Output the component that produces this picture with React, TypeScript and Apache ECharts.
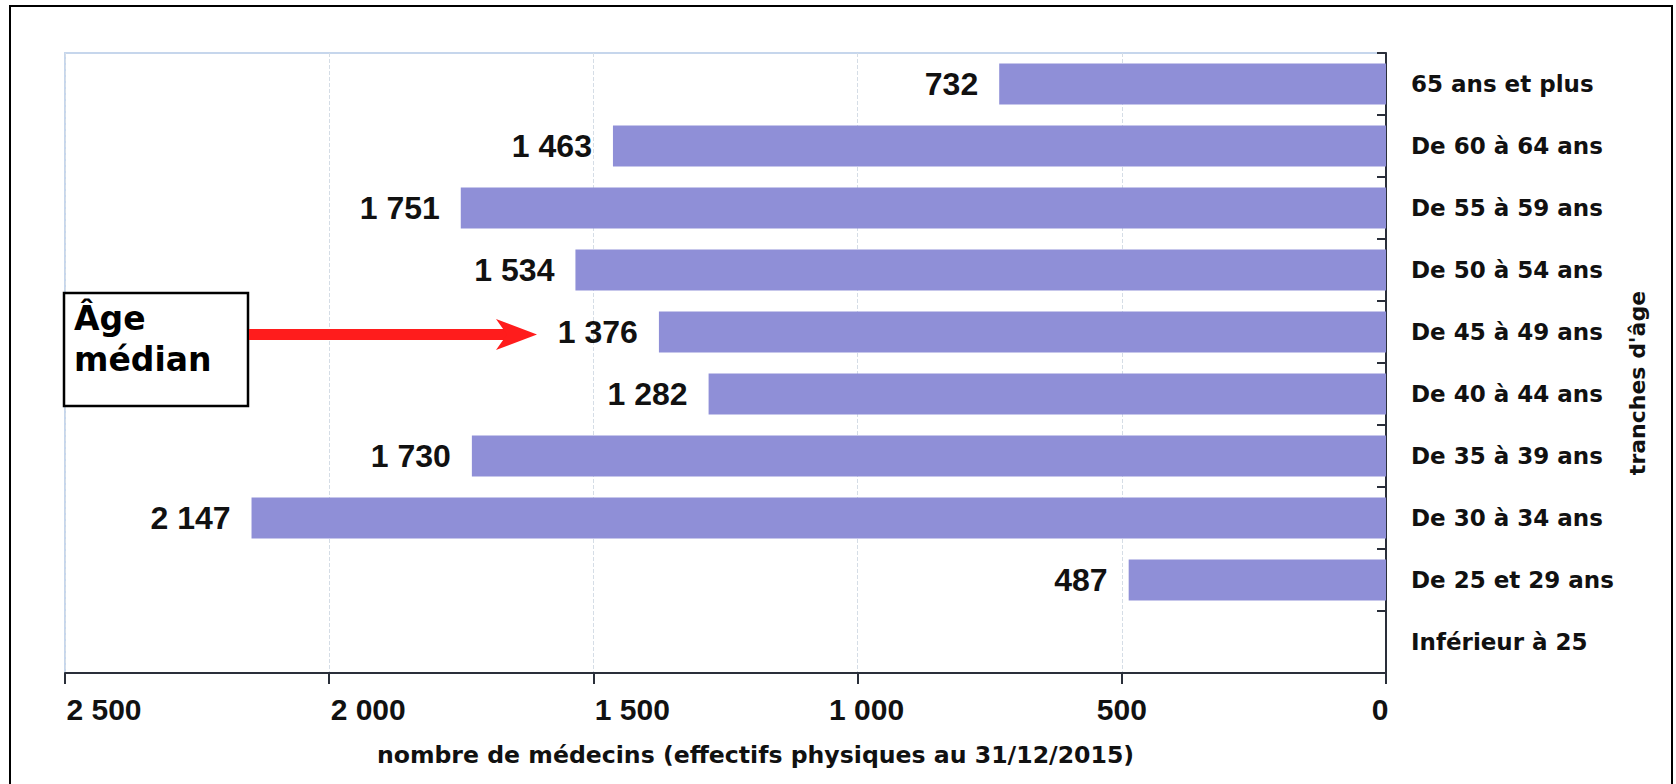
import React, { useEffect, useRef } from "react";
import * as echarts from "echarts";

const categories = [
  "65 ans et plus",
  "De 60 à 64 ans",
  "De 55 à 59 ans",
  "De 50 à 54 ans",
  "De 45 à 49 ans",
  "De 40 à 44 ans",
  "De 35 à 39 ans",
  "De 30 à 34 ans",
  "De 25 et 29 ans",
  "Inférieur à 25",
];
const medecins = [732, 1463, 1751, 1534, 1376, 1282, 1730, 2147, 487, 0];
const xTicks = [0, 500, 1000, 1500, 2000, 2500];
const xAxisTitle = "nombre de médecins (effectifs physiques au 31/12/2015)";
const yAxisTitle = "tranches d'âge";
const annotationText = "Âge\nmédian";

const fmt = (v: number) => String(v).replace(/\B(?=(\d{3})+(?!\d))/g, " ");

export default function App() {
  const ref = useRef<HTMLDivElement>(null);
  useEffect(() => {
    if (!ref.current) return;
    const chart = echarts.init(ref.current, null, { renderer: "svg" });
    const tickFont = { fontFamily: "Liberation Sans", fontWeight: "bold" as const, fontSize: 30, color: "#111" };
    chart.setOption({
      animation: false,
      backgroundColor: "#fff",
      grid: {
        left: 65,
        right: 290,
        top: 53,
        bottom: 111,
        show: true,
        borderColor: "#c6d6ec",
        borderWidth: 2,
        backgroundColor: "transparent",
      },
      xAxis: {
        type: "value",
        inverse: true,
        min: xTicks[0],
        max: xTicks[xTicks.length - 1],
        interval: 500,
        name: xAxisTitle,
        nameLocation: "middle",
        nameGap: 70,
        nameTextStyle: {
          fontFamily: "DejaVu Sans",
          fontWeight: "bold",
          fontSize: 23.6,
          color: "#111",
          padding: [0, 0, 0, 60],
        },
        axisLine: { show: true, lineStyle: { color: "#2a2f3a", width: 2 } },
        axisTick: { show: true, length: 11, lineStyle: { color: "#2a2f3a", width: 2 } },
        splitLine: { show: true, lineStyle: { color: "#d5dde6", type: "dashed", width: 1 } },
        axisLabel: {
          margin: 21,
          ...tickFont,
          formatter: (v: number) => {
            const s = fmt(v);
            if (v >= 1500) return `{a|${s}}`;
            if (v === 1000) return `{b|${s}}`;
            if (v === 0) return `{d|${s}}`;
            return `{c|${s}}`;
          },
          rich: {
            a: { ...tickFont, padding: [0, 0, 0, 78] },
            b: { ...tickFont, padding: [0, 0, 0, 18] },
            c: { ...tickFont },
            d: { ...tickFont, padding: [0, 12, 0, 0] },
          },
        },
      },
      yAxis: {
        type: "category",
        position: "right",
        inverse: true,
        data: categories,
        name: yAxisTitle,
        nameLocation: "middle",
        nameRotate: 90,
        nameGap: 240,
        nameTextStyle: {
          fontFamily: "DejaVu Sans",
          fontWeight: "bold",
          fontSize: 22,
          color: "#111",
          padding: [0, 40, 0, 0],
        },
        axisLine: { show: true, lineStyle: { color: "#2a2f3a", width: 2 } },
        axisTick: { show: true, inside: true, length: 9, lineStyle: { color: "#2a2f3a", width: 2 } },
        splitLine: { show: false },
        axisLabel: {
          align: "left",
          margin: 25,
          fontFamily: "DejaVu Sans",
          fontWeight: "bold",
          fontSize: 23,
          color: "#111",
        },
      },
      series: [
        {
          type: "bar",
          data: medecins,
          barCategoryGap: "34%",
          itemStyle: { color: "#8f8fd7" },
          label: {
            show: true,
            position: "left",
            distance: 21,
            fontFamily: "Liberation Sans",
            fontWeight: "bold",
            fontSize: 32,
            color: "#111",
            formatter: (p: any) => (p.value ? fmt(p.value) : ""),
          },
        },
      ],
      graphic: [
        {
          type: "rect",
          shape: { x: 10, y: 6, width: 1662, height: 800 },
          style: { fill: "none", stroke: "#000", lineWidth: 2 },
          silent: true,
        },
        {
          type: "rect",
          shape: { x: 64, y: 293, width: 184, height: 113 },
          style: { fill: "#fff", stroke: "#000", lineWidth: 2.5 },
          z: 10,
        },
        {
          type: "text",
          x: 74,
          y: 298,
          z: 11,
          style: {
            text: annotationText,
            fontFamily: "DejaVu Sans",
            fontWeight: "bold",
            fontSize: 33,
            lineHeight: 41,
            fill: "#000",
            verticalAlign: "top",
            align: "left",
          },
        },
        {
          type: "rect",
          shape: { x: 249, y: 329, width: 258, height: 11 },
          style: { fill: "#ff1c1c" },
          z: 10,
        },
        {
          type: "polygon",
          shape: { points: [[496, 319], [537, 334.5], [496, 350], [507, 334.5]] },
          style: { fill: "#ff1c1c" },
          z: 10,
        },
      ],
    });
    return () => chart.dispose();
  }, []);
  return (
    <div
      ref={ref}
      style={{ position: "absolute", left: 0, top: 0, width: 1676, height: 784 }}
    />
  );
}
